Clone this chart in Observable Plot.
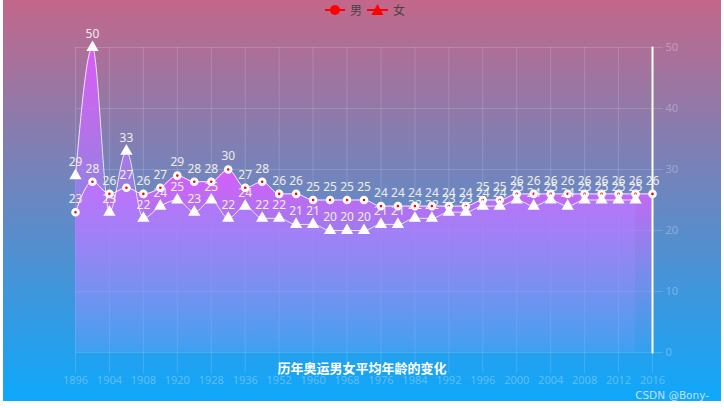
<!DOCTYPE html>
<html><head><meta charset="utf-8">
<script src="https://cdn.jsdelivr.net/npm/d3@7"></script>
<script src="https://cdn.jsdelivr.net/npm/@observablehq/plot@0.6"></script>
<style>
body{margin:0;background:#fff;}
#chart{position:absolute;left:3px;top:0;width:718px;height:401px;background:linear-gradient(to bottom,#c3678a 0%,#0ea8fb 100%);overflow:hidden;font-family:"Noto Sans CJK SC","Noto Sans",sans-serif;}
#legend{position:absolute;left:0;top:0;}
#title{position:absolute;left:0;width:100%;top:358px;text-align:center;color:#fff;font-weight:bold;font-size:13px;}
#wm{position:absolute;right:12px;top:389px;color:rgba(230,236,245,0.85);font-size:10.5px;font-family:"DejaVu Sans",sans-serif;}
#plot{position:absolute;left:0;top:0;}
</style></head>
<body>
<div id="chart">
  <div id="plot"></div>
  <svg id="legend" width="718" height="22">
    <line x1="322" y1="10" x2="342" y2="10" stroke="red" stroke-width="2"/>
    <circle cx="332" cy="10" r="5" fill="red"/>
    <text x="347" y="14.5" font-size="12" fill="#444" font-family="Noto Sans CJK SC">男</text>
    <line x1="364" y1="10" x2="385" y2="10" stroke="red" stroke-width="2"/>
    <path d="M374.5,4 L380.5,15 L368.5,15 Z" fill="red"/>
    <text x="390" y="14.5" font-size="12" fill="#444" font-family="Noto Sans CJK SC">女</text>
  </svg>
  <div id="title">历年奥运男女平均年龄的变化</div>
  <div id="wm">CSDN @Bony-</div>
</div>
<script>
const years = ["1896","1900","1904","1906","1908","1912","1920","1924","1928","1932","1936","1948","1952","1956","1960","1964","1968","1972","1976","1980","1984","1988","1992","1994","1996","1998","2000","2002","2004","2006","2008","2010","2012","2014","2016"];
const male = [23,28,26,27,26,27,29,28,28,30,27,28,26,26,25,25,25,25,24,24,24,24,24,24,25,25,26,26,26,26,26,26,26,26,26];
const female = [29,50,23,33,22,24,25,23,25,22,24,22,22,21,21,20,20,20,21,21,22,22,23,23,24,24,25,24,25,24,25,25,25,25,null];
const yTicks = [0,10,20,30,40,50];

const tickYears = years.filter((d,i)=>i%2===0);
const data = years.map((y,i)=>({year:y, male:male[i], female:female[i]}));
const fdata = data.filter(d=>d.female!=null);
const light = "rgba(255,255,255,0.3)";

const plot = Plot.plot({
  width:718, height:401,
  marginLeft:72, marginRight:69, marginTop:47, marginBottom:49,
  style:{background:"transparent", fontFamily:"'Noto Sans','DejaVu Sans',sans-serif", fontSize:"11px", overflow:"visible"},
  x:{type:"point", domain:years, padding:0},
  y:{domain:[0,50]},
  marks:[
    Plot.gridX(tickYears,{stroke:"#fff", strokeOpacity:0.15}),
    Plot.gridY(yTicks,{stroke:"#fff", strokeOpacity:0.15}),
    Plot.areaY(data,{x:"year", y:"male", curve:"monotone-x", fill:"url(#ag)"}),
    Plot.areaY(fdata,{x:"year", y:"female", curve:"monotone-x", fill:"url(#ag)"}),
    Plot.lineY(data,{x:"year", y:"male", curve:"monotone-x", stroke:"#fff", strokeWidth:1, strokeOpacity:0.9}),
    Plot.lineY(fdata,{x:"year", y:"female", curve:"monotone-x", stroke:"#fff", strokeWidth:1, strokeOpacity:0.8}),
    Plot.axisX(tickYears,{tickSize:21, tickPadding:3, stroke:"#fff", strokeOpacity:0.15, fill:light, fontSize:11, label:null}),
    Plot.axisY(yTicks,{anchor:"right", tickSize:10, tickPadding:3, stroke:"#fff", strokeOpacity:0.15, fill:light, fontSize:11, label:null}),
    Plot.frame({anchor:"right", stroke:"#fff", strokeWidth:2}),
    Plot.dot(data,{x:"year", y:"male", r:2.8, fill:"red", stroke:"#fff", strokeWidth:3}),
    Plot.dot(fdata,{x:"year", y:"female", r:2.3, symbol:"triangle", fill:"red", stroke:"#fff", strokeWidth:3.5, strokeLinejoin:"miter"}),
    Plot.text(data,{x:"year", y:"male", text:"male", dy:-13, fill:"#eee", fontSize:12}),
    Plot.text(fdata,{x:"year", y:"female", text:"female", dy:-13, fill:"#eee", fontSize:12})
  ]
});
const svg = d3.select(plot);
const g = svg.insert("defs",":first-child").append("linearGradient").attr("id","ag").attr("x1",0).attr("y1",0).attr("x2",0).attr("y2",1);
g.append("stop").attr("offset",0).attr("stop-color","rgb(222,90,255)").attr("stop-opacity",0.95);
g.append("stop").attr("offset",1).attr("stop-color","rgb(130,160,255)").attr("stop-opacity",0.15);
document.getElementById("plot").appendChild(plot);
</script>
</body></html>
